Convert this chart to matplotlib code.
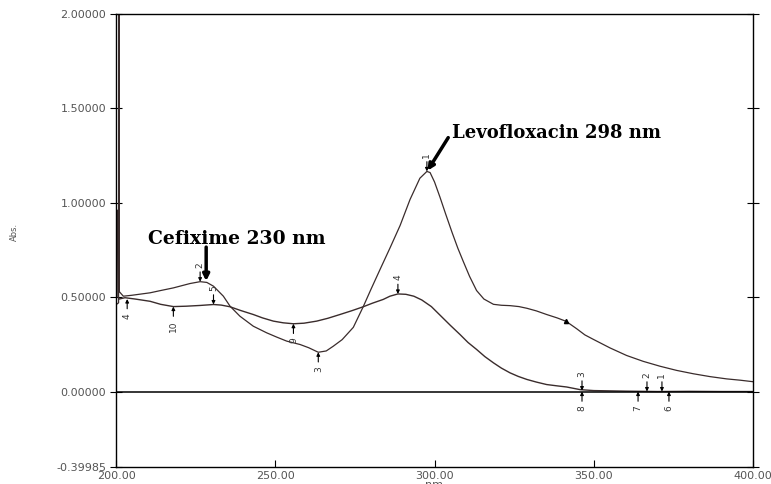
import matplotlib
matplotlib.use("Agg")
import matplotlib.pyplot as plt
from matplotlib.ticker import FixedLocator, FixedFormatter

# Spectrum A (upper trace, Levofloxacin / Cefixime mixture)
wl_a = [200.0, 200.8, 200.85, 200.95, 201.0, 201.5, 202.3, 205.0, 210.7, 214.0,
        218.0, 223.2, 226.4, 228.5, 230.6, 233.7, 235.8, 238.9, 243.1, 247.3,
        250.5, 253.6, 257.8, 260.5, 263.5, 266.0, 268.2, 271.0, 274.5, 277.6,
        280.0, 282.9, 286.0, 289.2, 292.3, 295.4, 297.6, 298.6, 300.0, 301.7,
        303.5, 305.5, 307.3, 309.0, 311.0, 313.2, 315.5, 318.5, 321.0, 323.7,
        326.5, 329.0, 332.0, 335.2, 338.5, 341.3, 344.6, 347.2, 349.9, 355.1,
        360.3, 365.5, 370.8, 376.0, 381.3, 386.5, 391.7, 396.0, 400.0]
abs_a = [0.46, 0.47, 2.30, 2.30, 0.53, 0.52, 0.505, 0.51, 0.523, 0.535,
         0.549, 0.572, 0.582, 0.578, 0.558, 0.505, 0.452, 0.399, 0.346, 0.311,
         0.288, 0.267, 0.249, 0.232, 0.208, 0.215, 0.240, 0.275, 0.340, 0.449,
         0.540, 0.647, 0.760, 0.880, 1.017, 1.130, 1.166, 1.160, 1.110, 1.030,
         0.940, 0.843, 0.760, 0.690, 0.610, 0.535, 0.490, 0.462, 0.457, 0.455,
         0.450, 0.441, 0.427, 0.408, 0.390, 0.372, 0.333, 0.300, 0.276, 0.231,
         0.191, 0.160, 0.134, 0.112, 0.094, 0.079, 0.067, 0.060, 0.052]

# Spectrum B (lower trace)
wl_b = [200.2, 200.45, 200.6, 201.0, 202.8, 206.0, 210.7, 214.0, 218.0, 222.0,
        226.4, 230.6, 233.0, 235.8, 239.0, 243.1, 246.0, 249.4, 252.5, 255.7,
        259.0, 263.0, 266.5, 270.3, 274.0, 277.6, 280.5, 283.9, 286.0, 288.5,
        291.0, 293.5, 296.0, 299.0, 302.0, 305.0, 308.0, 310.5, 313.2, 315.8,
        318.5, 321.0, 323.7, 326.3, 329.0, 332.0, 335.2, 338.5, 341.5, 345.7,
        350.0, 360.0, 370.0, 380.0, 390.0, 400.0]
abs_b = [0.96, 0.96, 0.50, 0.49, 0.497, 0.490, 0.478, 0.462, 0.450, 0.452,
         0.456, 0.461, 0.458, 0.449, 0.430, 0.408, 0.390, 0.373, 0.364, 0.359,
         0.362, 0.373, 0.388, 0.408, 0.428, 0.449, 0.468, 0.488, 0.505, 0.517,
         0.515, 0.505, 0.485, 0.450, 0.400, 0.350, 0.302, 0.260, 0.223, 0.185,
         0.152, 0.124, 0.099, 0.080, 0.064, 0.050, 0.037, 0.030, 0.024, 0.010,
         0.005, 0.002, 0.000, 0.001, 0.000, 0.000]

# Peak-pick marks: wavelength, absorbance, label, kind ('peak' above / 'valley' below)
pick_wl = [203.5, 218.0, 230.6, 226.4, 255.7, 263.5, 288.5, 297.6,
           346.3, 346.3, 363.9, 366.7, 371.4, 373.6]
pick_abs = [0.49, 0.45, 0.461, 0.582, 0.359, 0.208, 0.517, 1.166,
            0.005, 0.0, 0.0, 0.0, 0.0, 0.0]
pick_lbl = ["4", "10", "5", "2", "9", "3", "4", "1",
            "3", "8", "7", "2", "1", "6"]
pick_kind = ["valley", "valley", "peak", "peak", "valley", "valley", "peak", "peak",
             "peak", "valley", "valley", "peak", "peak", "valley"]

y_ticks = [-0.39985, 0.0, 0.5, 1.0, 1.5, 2.0]
y_tick_labels = ["-0.39985", "0.00000", "0.50000", "1.00000", "1.50000", "2.00000"]
x_ticks = [200, 250, 300, 350, 400]
x_tick_labels = ["200.00", "250.00", "300.00", "350.00", "400.00"]

line_color = "#3a2c2c"
label_color = "#555555"

fig = plt.figure(figsize=(7.71, 4.84), dpi=100)
ax = fig.add_axes([0.1505, 0.0351, 0.8262, 0.9360])

ax.plot(wl_a, abs_a, color=line_color, lw=0.9)
ax.plot(wl_b, abs_b, color=line_color, lw=1.0)
ax.axhline(0.0, color="black", lw=1.1)

ax.set_xlim(200, 400)
ax.set_ylim(-0.39985, 2.0)

ax.yaxis.set_major_locator(FixedLocator(y_ticks))
ax.yaxis.set_major_formatter(FixedFormatter(y_tick_labels))
ax.xaxis.set_major_locator(FixedLocator(x_ticks))
ax.xaxis.set_major_formatter(FixedFormatter(x_tick_labels))

ax.tick_params(axis="y", direction="inout", length=8, width=0.8,
               labelsize=8, labelcolor=label_color, pad=3, right=True)
ax.tick_params(axis="x", direction="in", length=5, width=0.8,
               labelsize=8, labelcolor=label_color, pad=3)
for side in ["left", "right", "top", "bottom"]:
    ax.spines[side].set_linewidth(1.0)

fig.text(14 / 771, 1 - 232 / 484, "Abs.", fontsize=6, color=label_color,
         rotation=90, ha="center", va="center")
fig.text(0.563, -0.003, "nm", fontsize=8, color=label_color, ha="center", va="center")

# peak-pick arrows with rotated numbers
for x, y, lbl, kind in zip(pick_wl, pick_abs, pick_lbl, pick_kind):
    sgn = 1 if kind == "peak" else -1
    ax.annotate("", xy=(x, y), xytext=(0, sgn * 7), textcoords="offset points",
                arrowprops=dict(arrowstyle="-|>", lw=0.8, color="black",
                                mutation_scale=5, shrinkA=0, shrinkB=0))
    ax.annotate(lbl, xy=(x, y), xytext=(0, sgn * 10), textcoords="offset points",
                ha="center", va="bottom" if kind == "peak" else "top",
                rotation=90, fontsize=6.5, color="#333333")

# small mark on the shoulder of spectrum A
ax.plot([341.3], [0.372], marker="^", ms=3, color="black")

# compound labels
ax.annotate("", xy=(228.3, 0.585), xytext=(228.3, 0.765),
            arrowprops=dict(arrowstyle="-|>", lw=2.5, color="black",
                            mutation_scale=9, shrinkA=0, shrinkB=0))
ax.text(210.0, 0.81, "Cefixime 230 nm", fontsize=13.5, fontweight="bold",
        family="DejaVu Serif", ha="left", va="center")

ax.annotate("", xy=(297.8, 1.17), xytext=(304.3, 1.345),
            arrowprops=dict(arrowstyle="-|>", lw=2.5, color="black",
                            mutation_scale=9, shrinkA=0, shrinkB=0))
ax.text(305.5, 1.372, "Levofloxacin 298 nm", fontsize=13, fontweight="bold",
        family="DejaVu Serif", ha="left", va="center")

fig.savefig("out.png", dpi=100)
